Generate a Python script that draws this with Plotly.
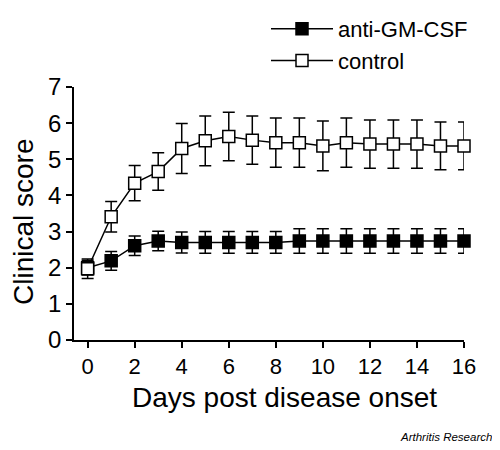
import plotly.graph_objects as go

days = list(range(0, 17))
anti_gmcsf = [2.00, 2.19, 2.61, 2.74, 2.70, 2.70, 2.70, 2.70, 2.70, 2.74, 2.74, 2.74, 2.74, 2.74, 2.74, 2.74, 2.74]
anti_gmcsf_err = [0.20, 0.26, 0.27, 0.27, 0.29, 0.30, 0.30, 0.30, 0.30, 0.34, 0.34, 0.34, 0.34, 0.34, 0.34, 0.34, 0.34]
control = [1.97, 3.41, 4.34, 4.66, 5.30, 5.51, 5.63, 5.53, 5.46, 5.46, 5.37, 5.46, 5.42, 5.42, 5.42, 5.37, 5.37]
control_err = [0.27, 0.42, 0.49, 0.52, 0.69, 0.69, 0.67, 0.67, 0.68, 0.68, 0.69, 0.68, 0.67, 0.67, 0.67, 0.66, 0.66]
x_ticks = [0, 2, 4, 6, 8, 10, 12, 14, 16]
y_ticks = [0, 1, 2, 3, 4, 5, 6, 7]

FONT = "Arial, Liberation Sans, Helvetica, sans-serif"

fig = go.Figure()
fig.add_trace(go.Scatter(
    x=days, y=anti_gmcsf, name="anti-GM-CSF", mode="lines+markers",
    line=dict(color="black", width=1.5),
    marker=dict(symbol="square", size=12, color="black", line=dict(color="black", width=1.5)),
    error_y=dict(type="data", array=anti_gmcsf_err, color="black", thickness=1.5, width=6),
    cliponaxis=False,
))
fig.add_trace(go.Scatter(
    x=days, y=control, name="control", mode="lines+markers",
    line=dict(color="black", width=1.5),
    marker=dict(symbol="square", size=12, color="white", line=dict(color="black", width=1.5)),
    error_y=dict(type="data", array=control_err, color="black", thickness=1.5, width=6),
    cliponaxis=False,
))

# page body has an 8px margin, so the figure is laid out in shifted coordinates
OFF = 8
W, H = 500 - OFF, 450 - OFF
L, T = 74 - OFF, 87 - OFF
R, B = 36, 110
pw, ph = W - L - R, H - T - B

def px_x(p):
    return (p - OFF - L) / pw

def px_y(p):
    return (H - B - (p - OFF)) / ph

fig.update_layout(
    width=W, height=H,
    margin=dict(l=L, r=R, t=T, b=B, pad=0, autoexpand=False),
    paper_bgcolor="white", plot_bgcolor="white",
    font=dict(family=FONT, color="black"),
    showlegend=True,
    legend=dict(
        xref="container", yref="container",
        x=(266 - OFF) / W, y=1 - (1 - OFF) / H, xanchor="left", yanchor="top",
        font=dict(size=22, family=FONT), bgcolor="rgba(0,0,0,0)",
        itemwidth=62, tracegroupgap=0,
    ),
    xaxis=dict(
        range=[-0.58, 16], tickvals=x_ticks, ticks="outside", ticklen=6, tickwidth=1.5,
        tickcolor="black", showline=True, linecolor="black", linewidth=1.5,
        showgrid=False, zeroline=False, tickfont=dict(size=22, family=FONT),
    ),
    yaxis=dict(
        range=[0, 7], tickvals=y_ticks, ticks="outside", ticklen=6, tickwidth=1.5,
        tickcolor="black", showline=True, linecolor="black", linewidth=1.5,
        showgrid=False, zeroline=False, tickfont=dict(size=24, family=FONT),
    ),
    annotations=[
        dict(text="Days post disease onset", xref="paper", yref="paper",
             x=px_x(284.5), y=px_y(397), xanchor="center", yanchor="middle",
             showarrow=False, font=dict(size=28, family=FONT)),
        dict(text="Clinical score", xref="paper", yref="paper", textangle=-90,
             x=px_x(23), y=px_y(222), xanchor="center", yanchor="middle",
             showarrow=False, font=dict(size=28, family=FONT)),
        dict(text="<i>Arthritis Research</i>", xref="paper", yref="paper",
             x=px_x(494), y=px_y(437), xanchor="right", yanchor="middle",
             showarrow=False, font=dict(size=11.5, family=FONT)),
    ],
)

fig.write_html("out.html")
